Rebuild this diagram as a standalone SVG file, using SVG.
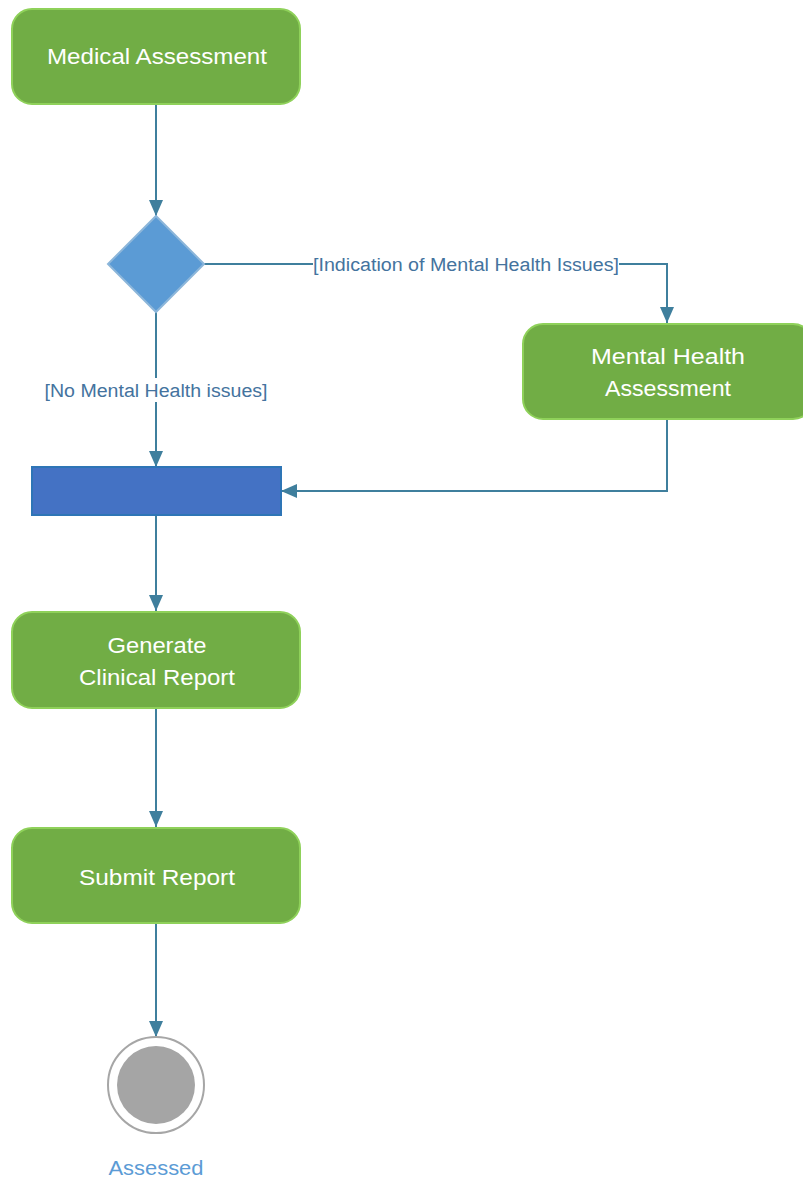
<svg xmlns="http://www.w3.org/2000/svg" width="803" height="1179" viewBox="0 0 803 1179">
<defs>
<marker id="arr" markerUnits="userSpaceOnUse" markerWidth="16" markerHeight="14" viewBox="0 0 16 14" refX="16" refY="7" orient="auto">
<path d="M0,0 L16,7 L0,14 Z" fill="#3f7f9d"/>
</marker>
<style>
.act{fill:#71ad45;stroke:#8fd15a;stroke-width:2}
.at{fill:#ffffff;font-family:"Liberation Sans",Arial,sans-serif;font-size:22px;text-anchor:middle}
.lbl{fill:#44739e;font-family:"Liberation Sans",Arial,sans-serif;font-size:18px;text-anchor:middle}
.edge{fill:none;stroke:#3f7f9d;stroke-width:2;marker-end:url(#arr)}
</style>
</defs>
<rect width="803" height="1179" fill="#ffffff"/>
<g id="connectors">
<path class="edge" d="M156,104 L156,216"/>
<path class="edge" d="M204,264 L667,264 L667,323"/>
<path class="edge" d="M156,312 L156,467"/>
<path class="edge" d="M667,419 L667,491 L281,491"/>
<path class="edge" d="M156,515 L156,611"/>
<path class="edge" d="M156,708 L156,827"/>
<path class="edge" d="M156,923 L156,1037"/>
<rect x="313" y="252" width="306" height="24" fill="#ffffff"/>
<text class="lbl" x="466" y="271" textLength="306" lengthAdjust="spacingAndGlyphs">[Indication of Mental Health Issues]</text>
<rect x="43" y="378" width="227" height="24" fill="#ffffff"/>
<text class="lbl" x="156" y="397" textLength="223" lengthAdjust="spacingAndGlyphs">[No Mental Health issues]</text>
</g>
<g id="medical">
<rect class="act" x="12" y="9" width="288" height="95" rx="20"/>
<text class="at" x="157" y="64" textLength="220" lengthAdjust="spacingAndGlyphs">Medical Assessment</text>
</g>
<g id="decision">
<polygon points="156,216 204,264 156,312 108,264" fill="#5b9bd5" stroke="#8cb6da" stroke-width="2"/>
</g>
<g id="mental">
<rect class="act" x="523" y="324" width="290" height="95" rx="20"/>
<text class="at" x="668" y="364" textLength="154" lengthAdjust="spacingAndGlyphs">Mental Health</text>
<text class="at" x="668" y="396" textLength="126" lengthAdjust="spacingAndGlyphs">Assessment</text>
</g>
<g id="join">
<rect x="32" y="467" width="249" height="48" fill="#4472c4" stroke="#2e75b6" stroke-width="2"/>
</g>
<g id="generate">
<rect class="act" x="12" y="612" width="288" height="96" rx="20"/>
<text class="at" x="157" y="653" textLength="99" lengthAdjust="spacingAndGlyphs">Generate</text>
<text class="at" x="157" y="685" textLength="156" lengthAdjust="spacingAndGlyphs">Clinical Report</text>
</g>
<g id="submit">
<rect class="act" x="12" y="828" width="288" height="95" rx="20"/>
<text class="at" x="157" y="885" textLength="156" lengthAdjust="spacingAndGlyphs">Submit Report</text>
</g>
<g id="final">
<circle cx="156" cy="1085" r="48" fill="#ffffff" stroke="#a6a6a6" stroke-width="2"/>
<circle cx="156" cy="1085" r="39" fill="#a5a5a5"/>
<text x="156" y="1175" fill="#5b9bd5" font-family="Liberation Sans,Arial,sans-serif" font-size="21" text-anchor="middle" textLength="95" lengthAdjust="spacingAndGlyphs">Assessed</text>
</g>
</svg>
